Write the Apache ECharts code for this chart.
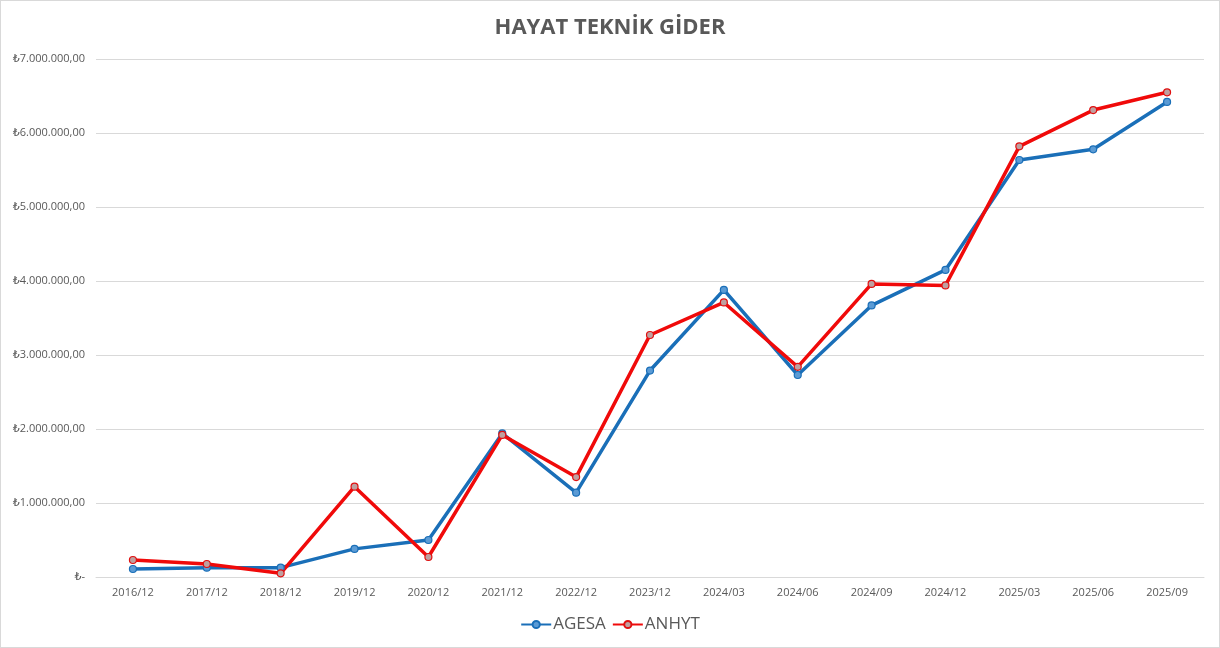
<!DOCTYPE html>
<html>
<head>
<meta charset="utf-8">
<script src="https://cdn.jsdelivr.net/npm/echarts@6/dist/echarts.min.js"></script>
<style>
html,body{margin:0;padding:0;background:#fff;}
#c{width:1218px;height:646px;border:1px solid #d9d9d9;}
</style>
</head>
<body>
<div id="c"></div>
<script>
var categories = ['2016/12','2017/12','2018/12','2019/12','2020/12','2021/12','2022/12','2023/12','2024/03','2024/06','2024/09','2024/12','2025/03','2025/06','2025/09'];
var agesa = [108000,126000,126000,380000,500000,1940000,1140000,2790000,3880000,2730000,3670000,4150000,5635000,5780000,6420000];
var anhyt = [230000,176000,50000,1220000,270000,1920000,1350000,3270000,3710000,2840000,3960000,3940000,5820000,6310000,6550000];
var yTicks = {min:0, max:7000000, interval:1000000};

function fmt(v){
  if(v===0) return '₺-';
  var s = Math.round(v).toString().replace(/\B(?=(\d{3})+(?!\d))/g,'.');
  return '₺' + s + ',00';
}

var chart = echarts.init(document.getElementById('c'));
var font = '"Open Sans", "DejaVu Sans", sans-serif';
chart.setOption({
  animation:false,
  title:{text:'HAYAT TEKNİK GİDER', left:'center', top:11,
    textStyle:{fontFamily:font, fontSize:22, fontWeight:'bold', color:'#595959'}},
  legend:{bottom:9, left:'center', itemWidth:30, itemHeight:9, itemGap:6,
    textStyle:{fontFamily:font, fontSize:17, color:'#595959', padding:[0,0,0,-3]},
    data:['AGESA','ANHYT']},
  grid:{left:95, right:15, top:58, bottom:70},
  xAxis:{type:'category', data:categories, boundaryGap:true,
    axisLine:{lineStyle:{color:'#d9d9d9'}}, axisTick:{show:false},
    axisLabel:{fontFamily:font, fontSize:11, color:'#595959', margin:10}},
  yAxis:{type:'value', min:yTicks.min, max:yTicks.max, interval:yTicks.interval,
    axisLine:{show:false}, axisTick:{show:false},
    splitLine:{lineStyle:{color:'#d9d9d9', width:1}},
    axisLabel:{fontFamily:font, fontSize:11, color:'#595959', margin:11, formatter:fmt}},
  series:[
    {name:'AGESA', type:'line', data:agesa, symbol:'circle', symbolSize:7,
      lineStyle:{color:'#1a6fb8', width:3.5}, itemStyle:{color:'#5b9bd5', borderColor:'#1a6fb8', borderWidth:1.2}},
    {name:'ANHYT', type:'line', data:anhyt, symbol:'circle', symbolSize:7,
      lineStyle:{color:'#f00a0a', width:3.5}, itemStyle:{color:'#bfa0a0', borderColor:'#e01010', borderWidth:1.2}}
  ]
});
</script>
</body>
</html>
